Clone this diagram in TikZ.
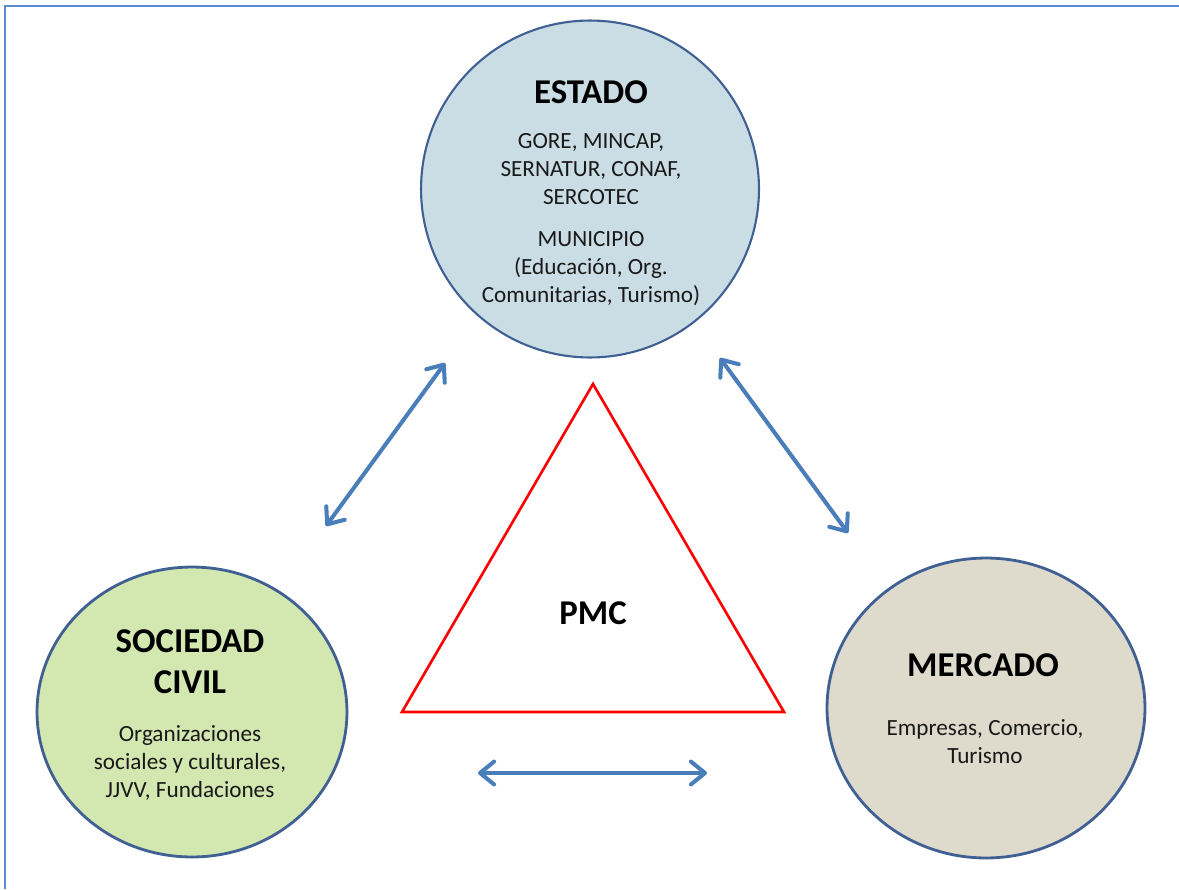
\documentclass[tikz,border=0pt]{standalone}
\usepackage{fontspec}
\setmainfont{Carlito}
\usepackage{tikz}
\usetikzlibrary{shapes.geometric, arrows.meta}
\usepackage{xcolor}

\definecolor{frameblue}{RGB}{91,139,208}
\definecolor{ringblue}{RGB}{64,96,148}
\definecolor{arrowblue}{RGB}{74,126,187}
\definecolor{estadofill}{RGB}{202,221,229}
\definecolor{civilfill}{RGB}{211,231,176}
\definecolor{mercadofill}{RGB}{222,219,204}

\tikzset{
  actor/.style={ellipse, draw=ringblue, line width=1.6pt, inner sep=0pt},
  title/.style={font=\fontsize{19.8}{23.2}\selectfont\bfseries, align=center},
  body/.style={font=\fontsize{13.2}{15.9}\selectfont, align=center, text=black!90},
  link/.style={draw=arrowblue, line width=2.3pt, line cap=round,
    {Straight Barb[length=8pt,width=13pt,line cap=round,line join=round]}-{Straight Barb[length=8pt,width=13pt,line cap=round,line join=round]}}
}

\begin{document}
\begin{tikzpicture}[x=0.02cm, y=-0.02cm]
    \useasboundingbox (0,0) rectangle (1179,889);

    % Frame
    \draw[frameblue, line width=1.2pt] (5,889) -- (5,6) -- (1179,6);

    % Actors
    \node[actor, fill=estadofill, line width=1.2pt, minimum width=6.76cm, minimum height=6.74cm] (estado) at (590,189) {};
    \node[actor, fill=civilfill, minimum width=6.2cm, minimum height=5.8cm] (civil) at (192,712) {};
    \node[actor, fill=mercadofill, minimum width=6.36cm, minimum height=6cm] (mercado) at (986,708) {};

    % Estado texts
    \node[title] (estadoT) at (591,92) {ESTADO};
    \node[body] (estadoA) at (591,169) {GORE, MINCAP,\\SERNATUR, CONAF,\\SERCOTEC};
    \node[body] (estadoB) at (591,269) {MUNICIPIO\\(Educación, Org.\\Comunitarias, Turismo)};

    % Sociedad civil texts
    \node[title] (civilT) at (190,662) {SOCIEDAD\\CIVIL};
    \node[body] (civilA) at (190,763) {Organizaciones\\sociales y culturales,\\JJVV, Fundaciones};

    % Mercado texts
    \node[title] (mercadoT) at (983,665) {MERCADO};
    \node[body] (mercadoA) at (985,742) {Empresas, Comercio,\\Turismo};

    % Triangle
    \draw[red, line width=1.5pt, line join=miter] (593,384) -- (784,712) -- (402,712) -- cycle;
    \node[title] (pmc) at (593,613) {PMC};

    % Arrow ends
    \coordinate (l1) at (445,363);
    \coordinate (l2) at (326,526);
    \coordinate (r1) at (720,358);
    \coordinate (r2) at (848,533);
    \coordinate (b1) at (478,773);
    \coordinate (b2) at (707,773);

    % Arrows
    \draw[link] (l1) -- (l2);
    \draw[link] (r1) -- (r2);
    \draw[link] (b1) -- (b2);
\end{tikzpicture}
\end{document}
